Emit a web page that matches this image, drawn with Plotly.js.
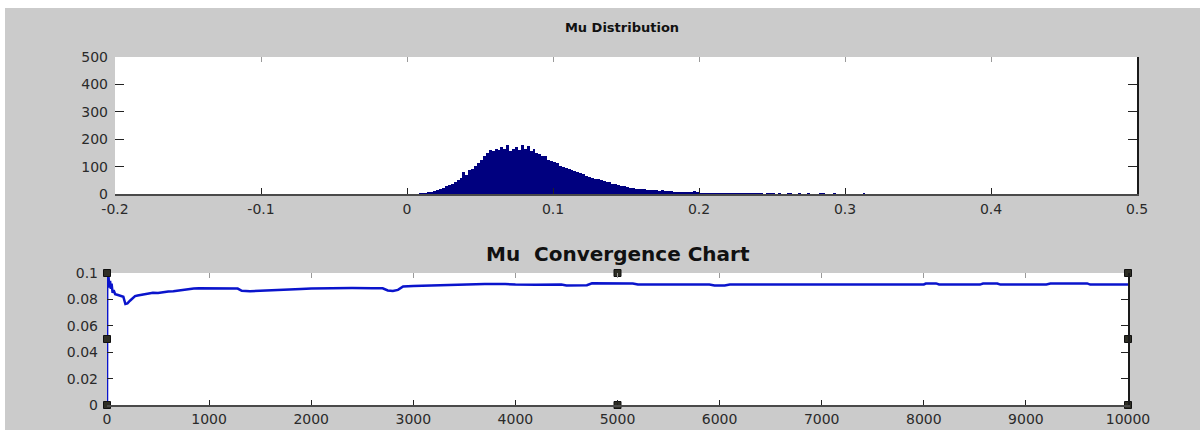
<!DOCTYPE html>
<html>
<head>
<meta charset="utf-8">
<script src="https://cdn.plot.ly/plotly-3.0.1.min.js"></script>
<style>
  html, body { margin: 0; padding: 0; background: #ffffff; width: 1200px; height: 430px; overflow: hidden; }
  #plot { position: absolute; left: 5px; top: 8px; width: 1195px; height: 422px; }
</style>
</head>
<body>
<div id="plot"></div>
<script>
// ---------- Data: Mu histogram (bin counts, first bin centre + bin width) ----------
const histFirstBin = 0.005;
const histBinWidth = 0.002;
const histCounts = [
  0, 1, 2, 3, 5, 7, 9, 12, 15, 19,
  23, 28, 32, 37, 43, 50, 57, 80, 68, 88,
  93, 104, 113, 124, 138, 149, 160, 157, 164, 160,
  173, 165, 178, 158, 163, 170, 160, 178, 164, 176,
  158, 166, 150, 146, 140, 138, 124, 120, 117, 112,
  104, 98, 94, 90, 88, 84, 80, 76, 72, 66,
  62, 60, 56, 54, 50, 48, 44, 42, 38, 36,
  32, 30, 28, 25, 23, 22, 20, 19, 18, 17,
  15, 16, 14, 13, 12, 13, 11, 10, 10, 9,
  8, 9, 7, 7, 6, 6, 12, 6, 5, 4,
  4, 5, 3, 4, 4, 3, 3, 4, 3, 3,
  4, 2, 3, 3, 2, 3, 2, 2, 3, 2,
  0, 2, 3, 2, 0, 2, 0, 0, 3, 2,
  0, 0, 2, 0, 0, 2, 0, 0, 0, 3,
  2, 0, 0, 0, 2, 0, 0, 0, 0, 0,
  0, 0, 0, 0, 3
];
const histXRange = [-0.2, 0.5];
const histYRange = [0, 500];
const histXTicks = [-0.2, -0.1, 0, 0.1, 0.2, 0.3, 0.4, 0.5];
const histXTickText = ['-0.2', '-0.1', '0', '0.1', '0.2', '0.3', '0.4', '0.5'];
const histYTicks = [0, 100, 200, 300, 400, 500];
const histYTickText = ['0', '100', '200', '300', '400', '500'];

// ---------- Data: Mu convergence (running mean vs iteration) ----------
const convIter = [
  0, 2, 8, 15, 22, 30, 38, 45, 55, 65,
  80, 100, 130, 160, 180, 200, 225, 250, 275, 300,
  350, 400, 450, 500, 550, 600, 650, 700, 750, 800,
  850, 900, 1000, 1100, 1200, 1280, 1320, 1400, 1500, 1600,
  1700, 1800, 1900, 2000, 2200, 2400, 2600, 2700, 2750, 2800,
  2850, 2900, 3000, 3150, 3300, 3500, 3700, 3900, 4000, 4200,
  4450, 4500, 4700, 4750, 5000, 5150, 5200, 5500, 5900, 5950,
  6050, 6100, 6500, 7000, 7500, 8000, 8020, 8120, 8150, 8550,
  8580, 8720, 8750, 9200, 9240, 9600, 9630, 10000
];
const convMu = [
  0, 0.1, 0.092, 0.097, 0.089, 0.094, 0.088, 0.092, 0.085, 0.087,
  0.084, 0.0835, 0.083, 0.082, 0.0765, 0.077, 0.079, 0.081, 0.0825, 0.083,
  0.0838, 0.0845, 0.085, 0.0848, 0.0855, 0.086, 0.0862, 0.0868, 0.0872, 0.0878,
  0.0882, 0.0885, 0.0884, 0.0885, 0.0884, 0.0882, 0.0865, 0.0862, 0.0866, 0.0868,
  0.0872, 0.0875, 0.0878, 0.0882, 0.0885, 0.0886, 0.0885, 0.0884, 0.0868, 0.0864,
  0.0872, 0.0898, 0.0902, 0.0906, 0.0909, 0.0914, 0.0916, 0.0917, 0.0912, 0.0911,
  0.0913, 0.0906, 0.0907, 0.0922, 0.0923, 0.0921, 0.0913, 0.0912, 0.0913, 0.0906,
  0.0905, 0.0912, 0.0912, 0.0912, 0.0912, 0.0913, 0.092, 0.0921, 0.0913, 0.0912,
  0.092, 0.092, 0.0912, 0.0913, 0.092, 0.0921, 0.0912, 0.0912
];
const convXRange = [0, 10000];
const convYRange = [0, 0.1];
const convXTicks = [0, 1000, 2000, 3000, 4000, 5000, 6000, 7000, 8000, 9000, 10000];
const convXTickText = ['0', '1000', '2000', '3000', '4000', '5000', '6000', '7000', '8000', '9000', '10000'];
const convYTicks = [0, 0.02, 0.04, 0.06, 0.08, 0.1];
const convYTickText = ['0', '0.02', '0.04', '0.06', '0.08', '0.1'];

const titles = ['Mu Distribution', 'Mu\u00a0 Convergence Chart'];

// selection handles (MATLAB edit mode) at corners / mid-edges of lower axes
const xMid = (convXRange[0] + convXRange[1]) / 2;
const yMid = (convYRange[0] + convYRange[1]) / 2;
const handleX = [convXRange[0], convXRange[0], convXRange[0], xMid, xMid, convXRange[1], convXRange[1], convXRange[1]];
const handleY = [convYRange[1], yMid, convYRange[0], convYRange[1], convYRange[0], convYRange[1], yMid, convYRange[0]];

// ---------- Plot ----------
const FONT = 'DejaVu Sans, Arial, sans-serif';
const tickFont = { family: FONT, size: 14, color: '#2a2a2a' };

// invisible helper trace so that the mirrored (overlay) axes get drawn
function anchorTrace(xa, ya, xr, yr) {
  return {
    type: 'scatter', mode: 'markers', x: xr, y: yr, xaxis: xa, yaxis: ya,
    marker: { size: 1, opacity: 0 }, hoverinfo: 'skip', showlegend: false
  };
}

const traces = [
  {
    type: 'bar',
    x0: histFirstBin,
    dx: histBinWidth,
    y: histCounts,
    xaxis: 'x', yaxis: 'y',
    marker: { color: '#00007f', line: { width: 0 } },
    hoverinfo: 'skip',
    showlegend: false
  },
  anchorTrace('x3', 'y', histXRange, histYRange),
  anchorTrace('x', 'y3', histXRange, histYRange),
  {
    type: 'scatter',
    mode: 'lines',
    x: convIter,
    y: convMu,
    xaxis: 'x2', yaxis: 'y2',
    line: { color: '#0a14cc', width: 2.5 },
    hoverinfo: 'skip',
    showlegend: false
  },
  anchorTrace('x4', 'y2', convXRange, convYRange),
  anchorTrace('x2', 'y4', convXRange, convYRange),
  {
    type: 'scatter',
    mode: 'markers',
    x: handleX,
    y: handleY,
    xaxis: 'x2', yaxis: 'y2',
    cliponaxis: false,
    marker: { symbol: 'square', size: 7, color: '#2e2e24', line: { color: '#111111', width: 1 } },
    hoverinfo: 'skip',
    showlegend: false
  }
];

const topDomX = [110 / 1195, 1132 / 1195];
const topDomY = [1 - 186 / 422, 1 - 49 / 422];
const botDomX = [102 / 1195, 1123 / 1195];
const botDomY = [1 - 397 / 422, 1 - 265 / 422];

const baseAx = {
  showgrid: false, zeroline: false, fixedrange: true,
  ticks: 'inside', tickcolor: '#222222', tickwidth: 1,
  tickfont: tickFont
};

const layout = {
  width: 1195, height: 422,
  margin: { l: 0, r: 0, t: 0, b: 0 },
  paper_bgcolor: '#cbcbcb',
  plot_bgcolor: '#ffffff',
  bargap: 0,
  showlegend: false,
  title: {
    text: titles[0],
    font: { family: FONT, size: 13, color: '#111111', weight: 'bold' },
    xref: 'container', yref: 'container',
    x: 617 / 1195, y: 1 - 19 / 422, xanchor: 'center', yanchor: 'middle'
  },
  annotations: [
    {
      text: titles[1],
      xref: 'paper', yref: 'paper',
      x: 613 / 1195, y: 1 - 246 / 422, xanchor: 'center', yanchor: 'middle',
      showarrow: false,
      font: { family: FONT, size: 20, color: '#111111', weight: 'bold' }
    }
  ],
  // top subplot
  xaxis: Object.assign({}, baseAx, {
    domain: topDomX, anchor: 'y', range: histXRange,
    tickmode: 'array', tickvals: histXTicks, ticktext: histXTickText,
    ticklen: 6, showline: true, linecolor: '#4a4a4a', linewidth: 1.5,
    ticklabelstandoff: 2
  }),
  yaxis: Object.assign({}, baseAx, {
    domain: topDomY, anchor: 'x', range: histYRange,
    tickmode: 'array', tickvals: histYTicks, ticktext: histYTickText,
    ticklen: 9, showline: false, ticklabelstandoff: 6
  }),
  xaxis3: Object.assign({}, baseAx, {
    overlaying: 'x', side: 'top', anchor: 'y', range: histXRange,
    tickmode: 'array', tickvals: histXTicks, ticklen: 5, tickcolor: '#9a9a9a',
    showticklabels: false, showline: false
  }),
  yaxis3: Object.assign({}, baseAx, {
    overlaying: 'y', side: 'right', anchor: 'x', range: histYRange,
    tickmode: 'array', tickvals: histYTicks, ticklen: 9,
    showticklabels: false, showline: true, linecolor: '#1a1a1a', linewidth: 2
  }),
  // bottom subplot
  xaxis2: Object.assign({}, baseAx, {
    domain: botDomX, anchor: 'y2', range: convXRange,
    tickmode: 'array', tickvals: convXTicks, ticktext: convXTickText,
    ticklen: 5, showline: true, linecolor: '#4a4a4a', linewidth: 1.5,
    ticklabelstandoff: 1
  }),
  yaxis2: Object.assign({}, baseAx, {
    domain: botDomY, anchor: 'x2', range: convYRange,
    tickmode: 'array', tickvals: convYTicks, ticktext: convYTickText,
    ticklen: 6, showline: false, ticklabelstandoff: 8
  }),
  xaxis4: Object.assign({}, baseAx, {
    overlaying: 'x2', side: 'top', anchor: 'y2', range: convXRange,
    tickmode: 'array', tickvals: convXTicks, ticklen: 5, tickcolor: '#9a9a9a',
    showticklabels: false, showline: false
  }),
  yaxis4: Object.assign({}, baseAx, {
    overlaying: 'y2', side: 'right', anchor: 'x2', range: convYRange,
    tickmode: 'array', tickvals: convYTicks, ticklen: 7,
    showticklabels: false, showline: true, linecolor: '#1a1a1a', linewidth: 2
  })
};

Plotly.newPlot('plot', traces, layout, { staticPlot: true, displayModeBar: false });
</script>
</body>
</html>
